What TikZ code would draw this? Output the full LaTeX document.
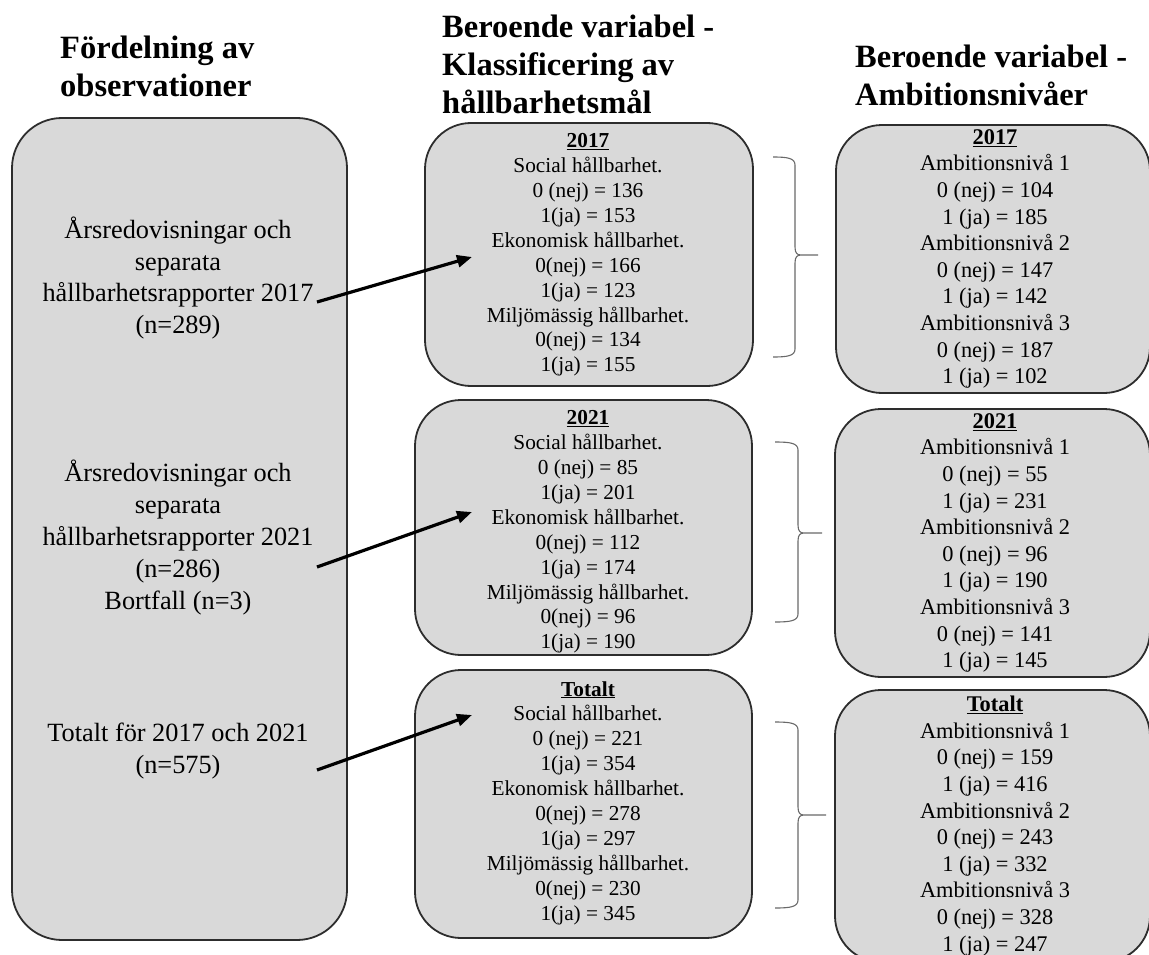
\documentclass[tikz,border=0pt]{standalone}
\usepackage{fontspec}
\setmainfont{Liberation Serif}
\usetikzlibrary{arrows.meta}
\definecolor{boxfill}{RGB}{217,217,217}
\definecolor{boxline}{RGB}{45,45,45}
\definecolor{brkcol}{RGB}{105,105,105}
% #1 stub x, #2 vertical x, #3 tip x, #4 top y, #5 mid y, #6 bottom y
\newcommand\obsbrace[6]{%
  \draw[brkline] (#1,#4) .. controls ({#2-8},#4) and (#2,{#4+1}) .. (#2,{#4+8})
    -- (#2,{#5-8}) .. controls (#2,{#5-2}) and ({#2+2},#5) .. ({#2+6},#5) -- (#3,#5)
    -- ({#2+6},#5) .. controls ({#2+2},#5) and (#2,{#5+2}) .. (#2,{#5+8})
    -- (#2,{#6-8}) .. controls (#2,{#6-1}) and ({#2-8},#6) .. (#1,#6);}
\begin{document}
\begin{tikzpicture}[x=1pt,y=-1pt,
  bigbox/.style={draw=boxline, line width=1.8pt, fill=boxfill, rounded corners=50pt, inner sep=0pt},
  smallbox/.style={draw=boxline, line width=1.8pt, fill=boxfill, rounded corners=46pt, inner sep=0pt},
  heading/.style={align=left, anchor=north west, inner sep=0pt, font=\fontsize{32.5}{38}\selectfont\bfseries},
  ltxt/.style={align=center, inner sep=0pt, font=\fontsize{26.3}{31.8}\selectfont},
  mtxt/.style={align=center, inner sep=0pt, font=\fontsize{21.3}{24.9}\selectfont},
  rtxt/.style={align=center, inner sep=0pt, font=\fontsize{22.4}{26.6}\selectfont},
  brkline/.style={draw=brkcol, line width=1.1pt},
  arr/.style={line width=3.2pt, -{Triangle[length=15pt,width=12pt]}}
]
\useasboundingbox (0,0) rectangle (1149,955);
\clip (0,0) rectangle (1149,955);

% headings
\node[heading] (h1) at (60,35.5) {Fördelning av\\observationer};
\node[heading] (h2) at (442,14.6) {Beroende variabel -\\Klassificering av\\hållbarhetsmål};
\node[heading] (h3) at (855,44.6) {Beroende variabel -\\Ambitionsnivåer};

% left box
\node[bigbox, minimum width=335pt, minimum height=822pt] (lbox) at (179.5,529) {};
\node[ltxt] (l1) at (178,278) {Årsredovisningar och\\separata\\hållbarhetsrapporter 2017\\(n=289)};
\node[ltxt] (l2) at (178,537.5) {Årsredovisningar och\\separata\\hållbarhetsrapporter 2021\\(n=286)\\Bortfall (n=3)};
\node[ltxt] (l3) at (178,751) {Totalt för 2017 och 2021\\(n=575)};

% middle boxes
\node[smallbox, minimum width=328pt, minimum height=263pt] (m1) at (589,254.5) {};
\node[mtxt] (m1t) at (588,255) {\underline{\textbf{2017}}\\Social hållbarhet.\\0 (nej) = 136\\1(ja) = 153\\Ekonomisk hållbarhet.\\0(nej) = 166\\1(ja) = 123\\Miljömässig hållbarhet.\\0(nej) = 134\\1(ja) = 155};
\node[smallbox, minimum width=337pt, minimum height=255pt] (m2) at (583.5,527.5) {};
\node[mtxt] (m2t) at (588,532) {\underline{\textbf{2021}}\\Social hållbarhet.\\0 (nej) = 85\\1(ja) = 201\\Ekonomisk hållbarhet.\\0(nej) = 112\\1(ja) = 174\\Miljömässig hållbarhet.\\0(nej) = 96\\1(ja) = 190};
\node[smallbox, minimum width=337pt, minimum height=268pt] (m3) at (583.5,804) {};
\node[mtxt] (m3t) at (588,803) {\underline{\textbf{Totalt}}\\Social hållbarhet.\\0 (nej) = 221\\1(ja) = 354\\Ekonomisk hållbarhet.\\0(nej) = 278\\1(ja) = 297\\Miljömässig hållbarhet.\\0(nej) = 230\\1(ja) = 345};

% right boxes
\node[smallbox, minimum width=314pt, minimum height=268pt] (r1) at (993,259) {};
\node[rtxt] (r1t) at (995,259) {\underline{\textbf{2017}}\\Ambitionsnivå 1\\0 (nej) = 104\\1 (ja) = 185\\Ambitionsnivå 2\\0 (nej) = 147\\1 (ja) = 142\\Ambitionsnivå 3\\0 (nej) = 187\\1 (ja) = 102};
\node[smallbox, minimum width=315pt, minimum height=268pt] (r2) at (992.5,543) {};
\node[rtxt] (r2t) at (995,543) {\underline{\textbf{2021}}\\Ambitionsnivå 1\\0 (nej) = 55\\1 (ja) = 231\\Ambitionsnivå 2\\0 (nej) = 96\\1 (ja) = 190\\Ambitionsnivå 3\\0 (nej) = 141\\1 (ja) = 145};
\node[smallbox, minimum width=315pt, minimum height=272pt] (r3) at (992.5,826) {};
\node[rtxt] (r3t) at (995,826) {\underline{\textbf{Totalt}}\\Ambitionsnivå 1\\0 (nej) = 159\\1 (ja) = 416\\Ambitionsnivå 2\\0 (nej) = 243\\1 (ja) = 332\\Ambitionsnivå 3\\0 (nej) = 328\\1 (ja) = 247};

% braces
\obsbrace{773}{795}{818}{157}{255}{357}
\obsbrace{775}{798}{822}{442}{533}{622}
\obsbrace{775}{798}{826}{722}{815}{908}

% arrows
\coordinate (a1s) at (317,302);
\coordinate (a1e) at (472,257);
\coordinate (a2s) at (317,567);
\coordinate (a2e) at (472,512);
\coordinate (a3s) at (317,770);
\coordinate (a3e) at (472,715);
\draw[arr] (a1s) -- (a1e);
\draw[arr] (a2s) -- (a2e);
\draw[arr] (a3s) -- (a3e);
\end{tikzpicture}
\end{document}
